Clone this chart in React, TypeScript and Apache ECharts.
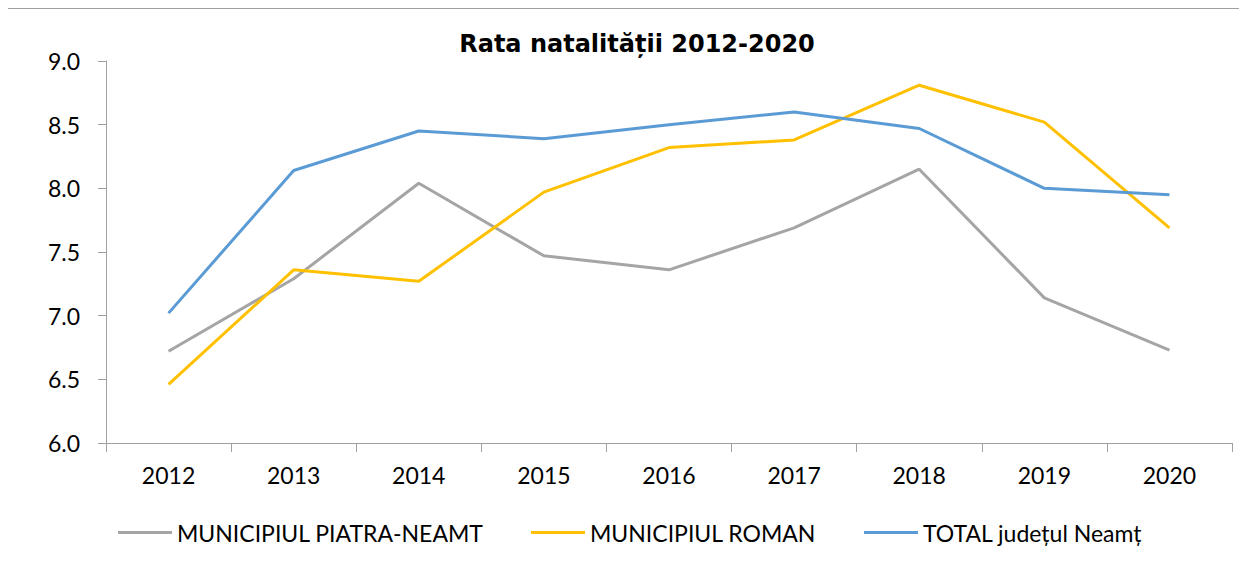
import React, { useEffect, useRef } from "react";
import * as echarts from "echarts";

const years = ["2012", "2013", "2014", "2015", "2016", "2017", "2018", "2019", "2020"];
const piatraNeamt = [6.72, 7.29, 8.04, 7.47, 7.36, 7.69, 8.15, 7.14, 6.73];
const roman = [6.46, 7.36, 7.27, 7.97, 8.32, 8.38, 8.81, 8.52, 7.69];
const totalNeamt = [7.02, 8.14, 8.45, 8.39, 8.5, 8.6, 8.47, 8.0, 7.95];
const seriesNames = ["MUNICIPIUL PIATRA-NEAMT", "MUNICIPIUL ROMAN", "TOTAL județul Neamț"];
const titleText = "Rata natalității 2012-2020";

const colors = ["#a5a5a5", "#ffc000", "#5b9bd5"];
const FONT = "Lato";
const FS = 23;

export default function App() {
  const ref = useRef<HTMLDivElement>(null);
  useEffect(() => {
    if (!ref.current) return;
    const chart = echarts.init(ref.current, undefined, { renderer: "svg" });
    const data = [piatraNeamt, roman, totalNeamt];
    const legendLefts = [106, 519, 852];
    chart.setOption({
      animation: false,
      backgroundColor: "#ffffff",
      title: {
        text: titleText,
        left: 625,
        textAlign: "center",
        top: 20,
        textStyle: { fontFamily: "DejaVu Sans", fontWeight: "bold", fontSize: 24, color: "#000" },
      },
      graphic: [
        {
          type: "rect",
          shape: { x: 0.5, y: 1.5, width: 3000, height: 3000 },
          style: { fill: "none", stroke: "#a0a0a0", lineWidth: 1 },
          silent: true,
        },
      ],
      legend: seriesNames.map((n, i) => ({
        data: [n],
        left: legendLefts[i],
        top: 509,
        icon: "rect",
        itemWidth: 54,
        itemHeight: 3,
        textStyle: { fontFamily: FONT, fontSize: FS, color: "#000" },
        selectedMode: false,
      })),
      grid: { left: 99, right: 15, top: 54, bottom: 123, containLabel: false },
      xAxis: {
        type: "category",
        data: years,
        boundaryGap: true,
        axisLine: { lineStyle: { color: "#a0a0a0", width: 1 } },
        axisTick: { show: true, length: 9, alignWithLabel: false, lineStyle: { color: "#a0a0a0" } },
        axisLabel: { margin: 20, fontFamily: FONT, fontSize: FS, color: "#000" },
      },
      yAxis: {
        type: "value",
        min: 6,
        max: 9,
        interval: 0.5,
        axisLine: { show: true, lineStyle: { color: "#a0a0a0", width: 1 } },
        axisTick: { show: true, length: 8, lineStyle: { color: "#a0a0a0" } },
        splitLine: { show: false },
        axisLabel: {
          margin: 26,
          fontFamily: FONT,
          fontSize: FS,
          color: "#000",
          formatter: (v: number) => v.toFixed(1),
        },
      },
      series: seriesNames.map((n, i) => ({
        name: n,
        type: "line",
        data: data[i],
        symbol: "none",
        color: colors[i],
        itemStyle: { color: colors[i] },
        lineStyle: { width: 3, color: colors[i] },
      })),
    });
    return () => chart.dispose();
  }, []);
  return (
    <div
      ref={ref}
      style={{ width: 1240, height: 559, marginLeft: -1, marginTop: -1 }}
    />
  );
}
